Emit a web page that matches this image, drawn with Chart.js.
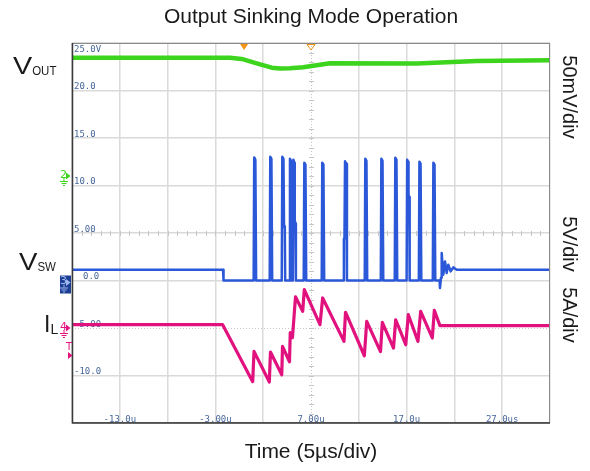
<!DOCTYPE html>
<html>
<head>
<meta charset="utf-8">
<script src="https://cdn.jsdelivr.net/npm/chart.js@4.4.1/dist/chart.umd.min.js"></script>
<style>
  html, body { margin: 0; padding: 0; background: #fff; }
  #scope { display: block; }
</style>
</head>
<body>
<canvas id="scope" width="590" height="471"></canvas>
<script>
// time base 5 us/div, screen from -18 us to 32 us
const timeLabels = ['-13.0u', '-3.00u', '7.00u', '17.0u', '27.0us'];
const timeLabelAt = [-13, -3, 7, 17, 27];
// on-screen level readout (VSW channel, 5 V/div)
const levelLabels = ['25.0V', '20.0', '15.0', '10.0', '5.00', '0.0', '-5.00', '-10.0'];
const levelLabelAt = [25, 20, 15, 10, 5, 0, -5, -10];

// VOUT, mV above the CH2 marker (50 mV/div)
const voutTime = [-18, -1.47, -0.25, 1.32, 2.89, 3.76, 4.8, 6.19, 7.24, 8.99, 18.06, 24.33, 32];
const voutMv = [124.5, 124.5, 123.2, 118.6, 114, 113.2, 113.4, 114.4, 116.1, 118.6, 118.4, 121.1, 121.8];

// VSW, volts (5 V/div)
const vswTime = [-18, -2.2, -2.15,
  1.0, 1.06, 1.18, 1.26,
  2.68, 2.74, 2.86, 2.94,
  3.94, 4.0, 4.12, 4.18, 4.26, 4.3,
  4.74, 4.8, 4.9, 4.98,
  5.1, 5.16, 5.26, 5.3, 5.38, 5.42,
  6.24, 6.3, 6.42, 6.5,
  8.12, 8.18, 8.3, 8.38,
  10.4, 10.44, 10.5, 10.56, 10.68, 10.76,
  12.62, 12.68, 12.8, 12.88,
  14.3, 14.36, 14.48, 14.56,
  15.76, 15.82, 15.94, 16.02,
  17.0, 17.06, 17.16, 17.2, 17.28, 17.32,
  18.28, 18.34, 18.46, 18.54,
  19.74, 19.8, 19.92, 20.0,
  20.45, 20.49, 20.6, 20.67, 20.84, 21.02, 21.19, 21.36, 21.61, 21.88, 22.24, 32];
const vswVolt = [1.14, 1.14, 0,
  0, 12.96, 12.7, 0,
  0, 13.03, 12.8, 0,
  0, 13.03, 12.8, 5.7, 5.5, 0,
  0, 12.82, 12.6, 0,
  0, 12.72, 12.4, 6.3, 6.0, 0,
  0, 12.4, 12.2, 0,
  0, 12.4, 12.2, 0,
  0, 4.4, 4.4, 12.54, 12.3, 0,
  0, 12.82, 12.6, 0,
  0, 12.82, 12.6, 0,
  0, 12.93, 12.7, 0,
  0, 12.72, 12.5, 9.0, 8.8, 0,
  0, 12.5, 12.3, 0,
  0, 12.4, 12.2, 0,
  0, -0.79, 0.3, 2.89, 0.61, 2.01, 0.79, 1.66, 0.96, 1.38, 1.14, 1.14];

// IL, amps above the CH4 marker (5 A/div)
const ilTime = [-18, -2.24, 0.9, 1.04, 2.64, 2.76, 3.94, 4.02, 4.75, 4.83, 5.06, 5.38,
  6.13, 6.3, 7.94, 8.22, 10.45, 10.61, 12.58, 12.83, 14.27, 14.46, 15.63, 15.86,
  16.91, 17.18, 18.19, 18.47, 19.69, 19.9, 20.49, 32];
const ilAmp = [0.35, 0.35, -5.65, -2.46, -5.68, -2.53, -4.92, -1.94, -3.55, -0.49, -1.02, 3.29,
  1.75, 4.03, 0.35, 3.16, -1.41, 1.66, -2.92, 0.69, -2.49, 0.59, -2.11, 0.87,
  -1.76, 1.4, -1.41, 1.75, -1.05, 1.85, 0.24, 0.24];

const triggerTime = 0;      // filled orange marker
const trigLevelAmp = -2.8;  // T marker on CH4

const GREEN = '#3cd41c';
const BLUE = '#2b58d8';
const PINK = '#e1127e';
const ORANGE = '#f39214';

function pts(xs, ys) {
  return xs.map(function (x, i) { return { x: x, y: ys[i] }; });
}

function groundMark(ctx, x, y, color) {
  ctx.strokeStyle = color;
  ctx.lineWidth = 1;
  ctx.beginPath();
  ctx.moveTo(x, y); ctx.lineTo(x, y + 3);
  ctx.moveTo(x - 4, y + 3.5); ctx.lineTo(x + 4, y + 3.5);
  ctx.moveTo(x - 2.5, y + 5.5); ctx.lineTo(x + 2.5, y + 5.5);
  ctx.moveTo(x - 1, y + 7.5); ctx.lineTo(x + 1, y + 7.5);
  ctx.stroke();
}

function arrowRight(ctx, x, y, color) {
  ctx.fillStyle = color;
  ctx.beginPath();
  ctx.moveTo(x, y - 3.5); ctx.lineTo(x + 4.5, y); ctx.lineTo(x, y + 3.5);
  ctx.closePath();
  ctx.fill();
}

function chanMarker(ctx, left, py, label, color, boxed) {
  ctx.save();
  if (boxed) {
    ctx.fillStyle = '#1d3f93';
    ctx.fillRect(left - 12, py - 7, 11, 18);
  }
  const c = boxed ? '#9fb8f0' : color;
  ctx.font = '11px "DejaVu Sans", sans-serif';
  ctx.textAlign = 'left';
  ctx.textBaseline = 'middle';
  ctx.fillStyle = c;
  ctx.fillText(label, left - 12, py - 1);
  arrowRight(ctx, left - 6, py, c);
  groundMark(ctx, left - 8, py + 2, c);
  ctx.restore();
}

function subText(ctx, main, sub, x, base, mainSize, subSize, mainStretch, subStretch, subDrop) {
  ctx.save();
  ctx.textAlign = 'left';
  ctx.textBaseline = 'alphabetic';
  ctx.fillStyle = '#1a1a1a';
  ctx.font = mainSize + 'px "Liberation Sans", Arial, sans-serif';
  const w = ctx.measureText(main).width * mainStretch;
  ctx.save();
  ctx.translate(x, base);
  ctx.scale(mainStretch, 1);
  ctx.fillText(main, 0, 0);
  ctx.restore();
  ctx.font = subSize + 'px "Liberation Sans", Arial, sans-serif';
  ctx.save();
  ctx.translate(x + w, base + subDrop);
  ctx.scale(subStretch, 1);
  ctx.fillText(sub, 0, 0);
  ctx.restore();
  ctx.restore();
}

function rotText(ctx, s, cx, cy) {
  ctx.save();
  ctx.translate(cx, cy);
  ctx.rotate(Math.PI / 2);
  ctx.textAlign = 'center';
  ctx.textBaseline = 'middle';
  ctx.fillText(s, 0, 0);
  ctx.restore();
}

const scopeDecor = {
  id: 'scopeDecor',
  beforeDatasetsDraw(chart) {
    const ctx = chart.ctx, a = chart.chartArea;
    const x = chart.scales.x, y = chart.scales.ySw;
    ctx.save();
    // centre graticule lines with minor ticks
    const cx = Math.round(x.getPixelForValue(7)) + 0.5;
    const cy = Math.round(y.getPixelForValue(5)) + 0.5;
    const ny = Math.round(y.getPixelForValue(-5)) + 0.5;
    ctx.strokeStyle = '#c6c6c6';
    ctx.lineWidth = 1;
    ctx.setLineDash([1, 2]);
    ctx.beginPath();
    ctx.moveTo(cx, a.top); ctx.lineTo(cx, a.bottom);
    ctx.moveTo(a.left, ny); ctx.lineTo(a.right, ny);
    ctx.stroke();
    ctx.setLineDash([]);
    ctx.beginPath();
    const stepY = (a.bottom - a.top) / 40, stepX = (a.right - a.left) / 50;
    for (let k = 1; k < 40; k++) {
      const yy = Math.round(a.top + k * stepY) + 0.5;
      ctx.moveTo(cx - 2.5, yy); ctx.lineTo(cx + 2.5, yy);
    }
    for (let k = 1; k < 50; k++) {
      const xx = Math.round(a.left + k * stepX) + 0.5;
      ctx.moveTo(xx, cy - 2.5); ctx.lineTo(xx, cy + 2.5);
    }
    ctx.stroke();

    // readout labels inside the graticule
    ctx.font = '9px "DejaVu Sans Mono", monospace';
    ctx.fillStyle = '#47679a';
    ctx.textAlign = 'left';
    ctx.textBaseline = 'alphabetic';
    levelLabels.forEach(function (s, i) {
      const py = y.getPixelForValue(levelLabelAt[i]);
      const by = i === 0 ? a.top + 9 : py - 1.5;
      ctx.fillText(s, a.left + (s === '0.0' ? 11 : 2), by);
    });
    ctx.textAlign = 'center';
    timeLabels.forEach(function (s, i) {
      ctx.fillText(s, x.getPixelForValue(timeLabelAt[i]), a.bottom - 1.5);
    });
    ctx.restore();
  },
  afterDatasetsDraw(chart) {
    const ctx = chart.ctx, a = chart.chartArea;
    const x = chart.scales.x;
    ctx.save();
    // graticule frame
    ctx.strokeStyle = '#8a8a8a';
    ctx.lineWidth = 1;
    ctx.strokeRect(a.left + 0.5, a.top + 0.5, a.right - a.left - 1, a.bottom - a.top - 1);
    ctx.strokeStyle = '#3a3a3a';
    ctx.lineWidth = 1.5;
    ctx.beginPath();
    ctx.moveTo(a.left + 0.5, a.top); ctx.lineTo(a.left + 0.5, a.bottom);
    ctx.lineTo(a.right, a.bottom);
    ctx.stroke();

    // trigger position markers
    const tx = x.getPixelForValue(triggerTime);
    ctx.fillStyle = ORANGE;
    ctx.beginPath();
    ctx.moveTo(tx - 4, a.top + 1); ctx.lineTo(tx + 4, a.top + 1); ctx.lineTo(tx, a.top + 7);
    ctx.closePath();
    ctx.fill();
    const mx = (a.left + a.right) / 2;
    ctx.strokeStyle = ORANGE;
    ctx.lineWidth = 1;
    ctx.beginPath();
    ctx.moveTo(mx - 4, a.top + 1.5); ctx.lineTo(mx + 4, a.top + 1.5); ctx.lineTo(mx, a.top + 7);
    ctx.closePath();
    ctx.stroke();

    // channel ground markers
    chanMarker(ctx, a.left, chart.scales.yOut.getPixelForValue(0), '2', GREEN, false);
    chanMarker(ctx, a.left, chart.scales.ySw.getPixelForValue(0) + 2, '3', BLUE, true);
    chanMarker(ctx, a.left, chart.scales.yL.getPixelForValue(0), '4', PINK, false);
    const ty = chart.scales.yL.getPixelForValue(trigLevelAmp);
    ctx.fillStyle = PINK;
    ctx.font = '10px "DejaVu Sans", sans-serif';
    ctx.textAlign = 'left';
    ctx.textBaseline = 'alphabetic';
    ctx.fillText('T', a.left - 6, ty - 5);
    arrowRight(ctx, a.left - 4, ty + 1, PINK);
    ctx.restore();
  },
  afterDraw(chart) {
    const ctx = chart.ctx, a = chart.chartArea;
    const mid = (a.left + a.right) / 2;
    ctx.save();
    ctx.fillStyle = '#1a1a1a';
    ctx.font = '21px "Liberation Sans", Arial, sans-serif';
    ctx.textAlign = 'center';
    ctx.textBaseline = 'middle';
    ctx.fillText('Output Sinking Mode Operation', mid, 17);
    ctx.fillText('Time (5\u00b5s/div)', mid, 452);
    ctx.font = '20px "Liberation Sans", Arial, sans-serif';
    rotText(ctx, '50mV/div', 569, 97);
    rotText(ctx, '5V/div', 569, 244);
    rotText(ctx, '5A/div', 569, 315);
    subText(ctx, 'V', 'OUT', 13, 74, 23, 13.5, 1.25, 0.85, 1);
    subText(ctx, 'V', 'SW', 19, 270, 23, 13.5, 1.2, 0.85, 1);
    subText(ctx, 'I', 'L', 44, 331.5, 23, 14, 1, 1, 2);
    ctx.restore();
  }
};

const chart = new Chart(document.getElementById('scope'), {
  type: 'line',
  data: {
    datasets: [
      { label: 'IL', data: pts(ilTime, ilAmp), yAxisID: 'yL', borderColor: PINK, borderWidth: 3.2 },
      { label: 'VSW', data: pts(vswTime, vswVolt), yAxisID: 'ySw', borderColor: BLUE, borderWidth: 2.5 },
      { label: 'VOUT', data: pts(voutTime, voutMv), yAxisID: 'yOut', borderColor: GREEN, borderWidth: 4.5 }
    ]
  },
  options: {
    responsive: false,
    animation: false,
    devicePixelRatio: 1,
    layout: { padding: { left: 72, right: 40, top: 43, bottom: 48 } },
    elements: {
      point: { radius: 0, hoverRadius: 0 },
      line: { tension: 0, borderJoinStyle: 'round', fill: false }
    },
    plugins: { legend: { display: false }, tooltip: { enabled: false } },
    events: [],
    scales: {
      x: {
        type: 'linear', min: -18, max: 32,
        ticks: { stepSize: 5, display: false },
        grid: {
          drawTicks: false, lineWidth: 1.5,
          color: function (c) { return c.tick && c.tick.value === 7 ? 'rgba(0,0,0,0)' : '#dadada'; }
        },
        border: { display: false },
        afterFit: function (s) { s.height = 0; }
      },
      ySw: {
        type: 'linear', position: 'left', min: -15, max: 25,
        ticks: { stepSize: 5, display: false },
        grid: {
          drawTicks: false, lineWidth: 1.5,
          color: function (c) { return c.tick && c.tick.value === -5 ? 'rgba(0,0,0,0)' : '#dadada'; }
        },
        border: { display: false },
        afterFit: function (s) { s.width = 0; }
      },
      yL: { type: 'linear', min: -10, max: 30, display: false },
      yOut: { type: 'linear', min: -260, max: 140, display: false }
    }
  },
  plugins: [scopeDecor]
});
</script>
</body>
</html>
